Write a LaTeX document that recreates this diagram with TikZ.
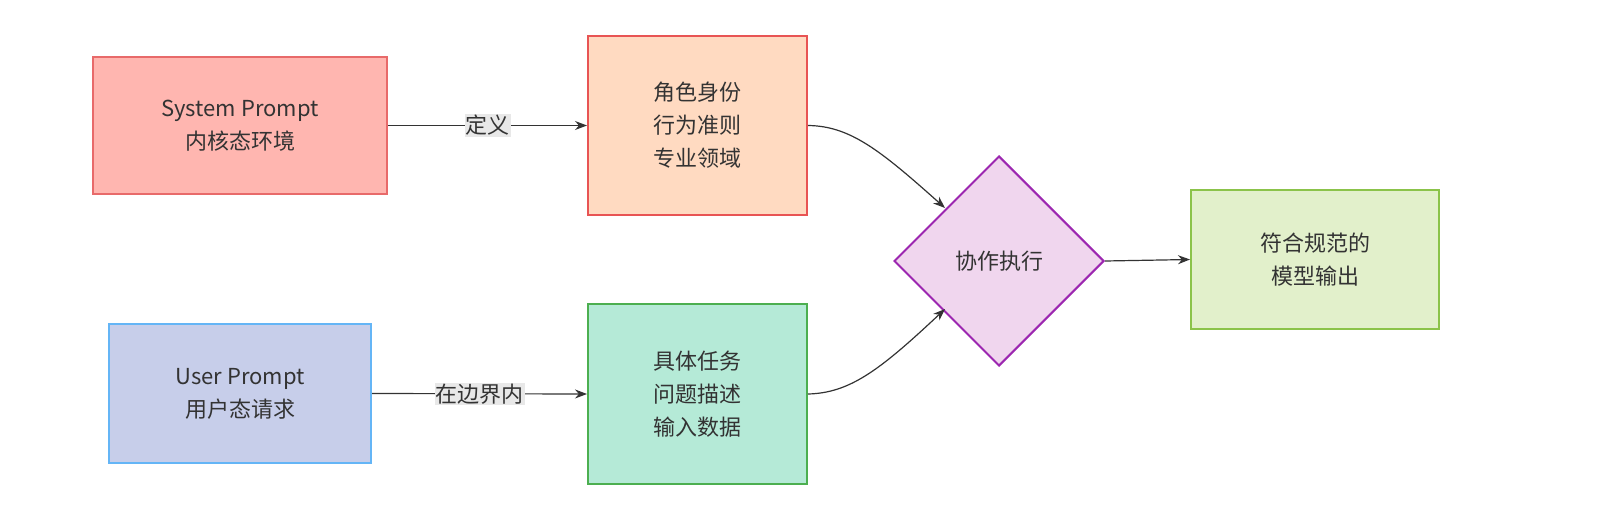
\documentclass[tikz,border=0pt]{standalone}
\usepackage{fontspec}
\setmainfont{Noto Sans CJK SC}
\usetikzlibrary{shapes.geometric,arrows.meta}
\definecolor{redfill}{HTML}{FFB6B0}
\definecolor{redline}{HTML}{E86A6A}
\definecolor{orfill}{HTML}{FFDAC1}
\definecolor{orline}{HTML}{E85454}
\definecolor{bluefill}{HTML}{C7CEEA}
\definecolor{blueline}{HTML}{64B5F6}
\definecolor{grfill}{HTML}{B5EAD7}
\definecolor{grline}{HTML}{4CAF50}
\definecolor{pufill}{HTML}{F0D6EE}
\definecolor{puline}{HTML}{9C27B0}
\definecolor{ltfill}{HTML}{E2F0CB}
\definecolor{ltline}{HTML}{8BC34A}
\definecolor{txt}{HTML}{333333}
\begin{document}
\begin{tikzpicture}[x=1pt,y=-1pt,
 box/.style={draw,line width=2pt,align=center,text=txt,font=\fontsize{22}{33}\selectfont,inner sep=0},
 lbl/.style={fill=black!9,text=txt,font=\fontsize{22}{26}\selectfont,inner sep=1pt},
 conn/.style={draw=txt,line width=1.2pt,-{Stealth[length=12pt,width=9pt]}}]
\useasboundingbox (0,0) rectangle (1600,524);
\node[box,fill=redfill,draw=redline,minimum width=294pt,minimum height=137pt] (sys) at (240,125.5) {System Prompt\\内核态环境};
\node[box,fill=orfill,draw=orline,minimum width=219pt,minimum height=179pt] (role) at (697.5,125.5) {角色身份\\行为准则\\专业领域};
\node[box,fill=bluefill,draw=blueline,minimum width=262pt,minimum height=139pt] (usr) at (240,393.5) {User Prompt\\用户态请求};
\node[box,fill=grfill,draw=grline,minimum width=219pt,minimum height=180pt] (task) at (697.5,394) {具体任务\\问题描述\\输入数据};
\node[box,diamond,fill=pufill,draw=puline,minimum width=210pt,minimum height=210pt] (dia) at (999,261) {协作执行};
\node[box,fill=ltfill,draw=ltline,minimum width=248pt,minimum height=139pt] (out) at (1315,259.5) {符合规范的\\模型输出};
\draw[conn] (sys.east) -- node[lbl]{定义} (role.west);
\draw[conn] (usr.east) -- node[lbl]{在边界内} (task.west);
\coordinate (d1) at (945,208);
\coordinate (d2) at (945,309);
\draw[conn] (role.east) .. controls (850,126) and (880,150) .. (d1);
\draw[conn] (task.east) .. controls (850,393) and (880,370) .. (d2);
\draw[conn] (dia.east) -- (out.west);
\end{tikzpicture}
\end{document}
